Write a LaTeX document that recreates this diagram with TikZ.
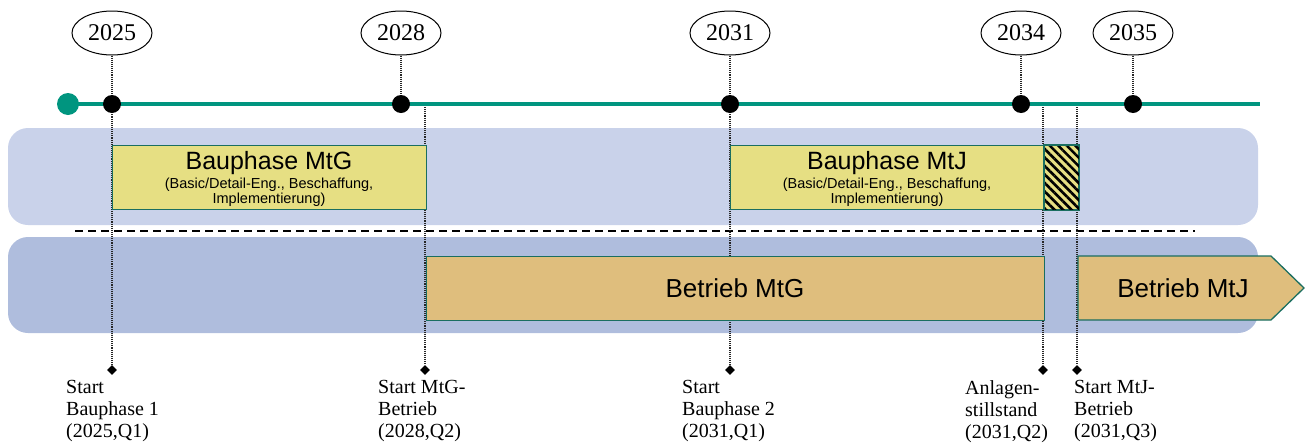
\documentclass[tikz,border=0pt]{standalone}
\usepackage{fontspec}
\setmainfont{Liberation Serif}
\setsansfont{Liberation Sans}
\usetikzlibrary{shapes.geometric,patterns.meta}
\definecolor{teal1}{HTML}{00957F}
\definecolor{boxedge}{HTML}{1A6E60}
\definecolor{bandA}{HTML}{C9D2EA}
\definecolor{bandB}{HTML}{AFBDDD}
\definecolor{bauyel}{HTML}{E6DF83}
\definecolor{betrieb}{HTML}{DFBE7D}
\begin{document}
\begin{tikzpicture}[x=1pt,y=-1pt,
  year/.style={ellipse,draw=black,line width=1pt,fill=white,minimum width=80pt,minimum height=44pt,inner sep=0pt,font=\fontsize{24}{24}\selectfont},
  tdot/.style={circle,fill=black,minimum size=18pt,inner sep=0pt},
  gdot/.style={circle,fill=teal1,minimum size=22pt,inner sep=0pt},
  dmd/.style={diamond,fill=black,minimum size=10pt,inner sep=0pt},
  vline/.style={densely dotted,line width=1.1pt,draw=black!85},
  phasebox/.style={rectangle,draw=boxedge,line width=1.3pt,inner sep=0pt,anchor=north west},
  titletext/.style={font=\sffamily\fontsize{25}{25}\selectfont,anchor=base,inner sep=0pt},
  optext/.style={font=\sffamily\fontsize{26}{26}\selectfont,anchor=base,inner sep=0pt},
  subtext/.style={font=\sffamily\fontsize{14.5}{15}\selectfont,anchor=base,inner sep=0pt},
  evtext/.style={font=\fontsize{20}{22}\selectfont,align=left,anchor=north west,inner sep=0pt},
  band/.style={rounded corners=20pt}
]
\useasboundingbox (0,0) rectangle (1307,445);
% bands
\fill[band,fill=bandA] (8,128) rectangle (1258,225);
\fill[band,fill=bandB] (8,237) rectangle (1258,333);
% dashed separator
\coordinate (dsA) at (75,231);
\coordinate (dsB) at (1195,231);
\draw[dash pattern=on 8pt off 5pt,line width=1.5pt] (dsA) -- (dsB);
% year ellipses
\node[year] (y2025) at (112,33) {2025};
\node[year] (y2028) at (401,33) {2028};
\node[year] (y2031) at (730,33) {2031};
\node[year] (y2034) at (1021,33) {2034};
\node[year] (y2035) at (1133,33) {2035};
% timeline dots positions
\coordinate (p2025) at (112,104);
\coordinate (p2028) at (401,104);
\coordinate (p2031) at (730,104);
\coordinate (p2034) at (1021,104);
\coordinate (p2035) at (1133,104);
% event diamonds
\node[dmd] (m1) at (112,370) {};
\node[dmd] (m2) at (425,370) {};
\node[dmd] (m3) at (730,370) {};
\node[dmd] (m4) at (1043,370) {};
\node[dmd] (m5) at (1077,370) {};
\coordinate (c2) at (425,107);
\coordinate (c4) at (1043,107);
\coordinate (c5) at (1077,107);
% dotted connectors
\draw[vline] (y2025) -- (p2025) -- (m1);
\draw[vline] (y2028) -- (p2028);
\draw[vline] (y2031) -- (p2031) -- (m3);
\draw[vline] (y2034) -- (p2034);
\draw[vline] (y2035) -- (p2035);
\draw[vline] (c2) -- (m2);
\draw[vline] (c4) -- (m4);
\draw[vline] (c5) -- (m5);
% timeline
\node[gdot] (g0) at (68,104) {};
\coordinate (gend) at (1260,104);
\draw[teal1,line width=3.5pt] (g0.center) -- (gend);
\node[tdot] (d2025) at (p2025) {};
\node[tdot] (d2028) at (p2028) {};
\node[tdot] (d2031) at (p2031) {};
\node[tdot] (d2034) at (p2034) {};
\node[tdot] (d2035) at (p2035) {};
% phase boxes
\node[phasebox,fill=bauyel,minimum width=314pt,minimum height=64pt] (bmtg) at (112,145) {};
\node[phasebox,fill=bauyel,minimum width=314pt,minimum height=64pt] (bmtj) at (730,145) {};
\node[phasebox,fill=bauyel,minimum width=34pt,minimum height=64pt] (hatch) at (1044,145) {};
\fill[pattern={Lines[angle=-45,distance=6pt,line width=2.6pt]},pattern color=black] (hatch.north west) rectangle (hatch.south east);
\draw[boxedge,line width=1.3pt] (hatch.north west) rectangle (hatch.south east);
\node[phasebox,fill=betrieb,minimum width=618pt,minimum height=64pt] (btg) at (426,256) {};
\draw[fill=betrieb,draw=boxedge,line width=1.3pt] (1078,256) -- (1271,256) -- (1304,288) -- (1271,320) -- (1078,320) -- cycle;
% box texts
\node[titletext] (t1) at (269,169) {Bauphase MtG};
\node[subtext] (t1a) at (269,188) {(Basic/Detail-Eng., Beschaffung,};
\node[subtext] (t1b) at (269,203) {Implementierung)};
\node[titletext] (t2) at (887,169) {Bauphase MtJ};
\node[subtext] (t2a) at (887,188) {(Basic/Detail-Eng., Beschaffung,};
\node[subtext] (t2b) at (887,203) {Implementierung)};
\node[optext] (t3) at (735,297) {Betrieb MtG};
\node[optext] (t4) at (1183,297) {Betrieb MtJ};
% event labels
\node[evtext] (e1) at (66,380) {Start\\Bauphase 1\\(2025,Q1)};
\node[evtext] (e2) at (378,380) {Start MtG-\\Betrieb\\(2028,Q2)};
\node[evtext] (e3) at (682,380) {Start\\Bauphase 2\\(2031,Q1)};
\node[evtext] (e4) at (965,380) {Anlagen-\\stillstand\\(2031,Q2)};
\node[evtext] (e5) at (1074,380) {Start MtJ-\\Betrieb\\(2031,Q3)};
\end{tikzpicture}
\end{document}
